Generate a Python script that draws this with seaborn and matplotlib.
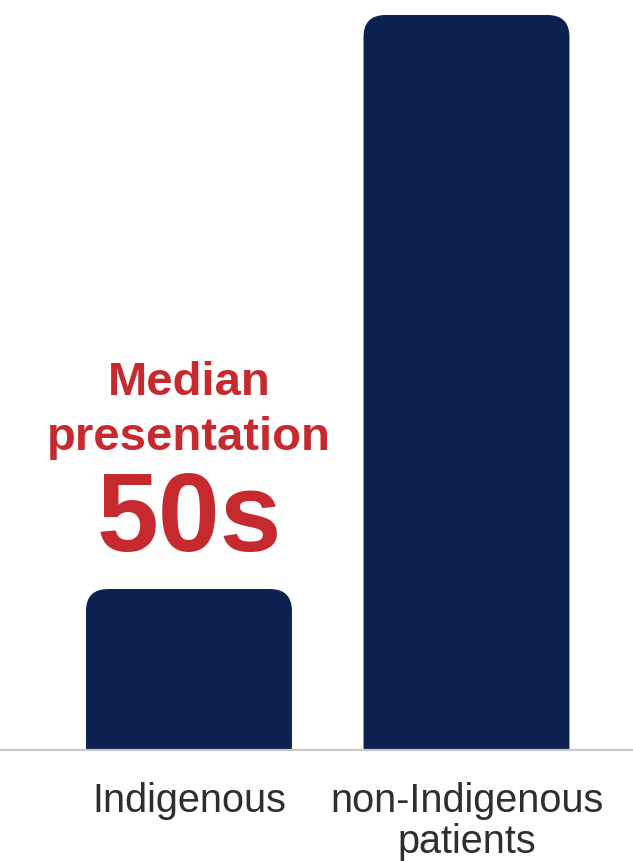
import matplotlib
matplotlib.use("Agg")
import matplotlib.pyplot as plt
import seaborn as sns
from matplotlib.patches import FancyBboxPatch

# ---- data ----
categories = ["Indigenous", "non-Indigenous\npatients"]
values = [21.9, 100.0]
annot_lines = ["Median", "presentation", "50s"]

navy = "#0b2150"
red = "#c62a2f"
label_color = "#2e2e2e"

sns.set_theme(style="white")
plt.rcParams["font.family"] = ["Liberation Sans", "DejaVu Sans"]

fig = plt.figure(figsize=(6.33, 8.61), dpi=100)
fig.patch.set_facecolor("white")
ax = fig.add_axes([0, 111 / 861, 1, 750 / 861])

sns.barplot(x=categories, y=values, color=navy, saturation=1, width=0.742, ax=ax)
ax.set_xlim(-0.681, 1.6)
ax.set_ylim(0, 102.04)

# rounded-top bars
rx = 22 / 277.5
ry = 22 / 7.35
for p in list(ax.patches):
    x, y, w, h = p.get_x(), p.get_y(), p.get_width(), p.get_height()
    p.remove()
    fb = FancyBboxPatch((x, y - 10), w, h + 10,
                        boxstyle=f"round,pad=0,rounding_size={rx}",
                        mutation_aspect=ry / rx, fc=navy, ec="none", zorder=1)
    ax.add_patch(fb)

# annotation above first bar
offsets = [194, 139, 38]
sizes = [34, 34, 80]
for txt, off, sz in zip(annot_lines, offsets, sizes):
    ax.annotate(txt, xy=(0, values[0]), xytext=(0, off), textcoords="offset pixels",
                ha="center", va="baseline", fontsize=sz, fontweight="bold", color=red)

ax.set_xticks([0, 1])
ax.set_xticklabels(categories, fontsize=28.5, color=label_color, linespacing=1.1)
ax.tick_params(axis="x", length=0, pad=23)
ax.set_yticks([])
ax.set_xlabel("")
ax.set_ylabel("")
for s in ["top", "left", "right"]:
    ax.spines[s].set_visible(False)
ax.spines["bottom"].set_color("#c8c8c8")
ax.spines["bottom"].set_linewidth(1.6)
ax.set_facecolor("white")

fig.savefig("out.png", dpi=100, facecolor="white")
